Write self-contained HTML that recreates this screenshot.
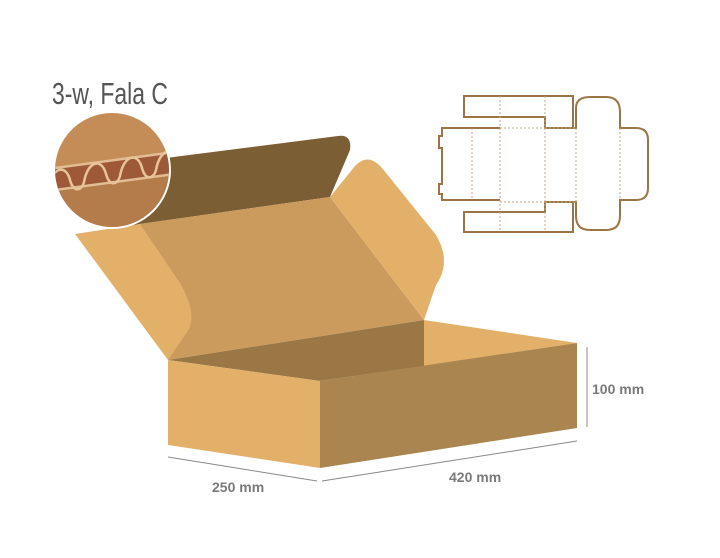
<!DOCTYPE html>
<html><head><style>
html,body{margin:0;padding:0;background:#fff;width:720px;height:558px;overflow:hidden}
svg{display:block}
</style></head><body>
<svg width="720" height="558" viewBox="0 0 720 558" xmlns="http://www.w3.org/2000/svg">
<defs><clipPath id="c"><circle cx="112" cy="170" r="57"/></clipPath></defs>
<!-- back flap -->
<path d="M120,228 L150,160 L338,136 Q352,134 350,150 L330,197 L140,224 Z" fill="#7C5E35"/>
<!-- lid inside -->
<path d="M140,224 L330,197 L424,320 L168,360 Z" fill="#CB9B5E"/>
<!-- right flap -->
<path d="M330,197 L355,166 Q368,152 382,168 L436,235 Q452,262 436,285 L424,320 Z" fill="#E3B06A"/>
<!-- left flap -->
<path d="M75,234 L140,224 L180,283 Q200,318 185,335 L168,360 Z" fill="#E3B06A"/>
<!-- inner box -->
<path d="M168,360 L424,320 L424,366 L320,381 Z" fill="#9A7745"/>
<path d="M424,320 L577,343 L424,366 Z" fill="#E3B06A"/>
<!-- front faces -->
<path d="M168,360 L320,381 L320,468 L168,445 Z" fill="#E3B06A"/>
<path d="M320,381 L577,343 L577,428 L320,468 Z" fill="#AA854F"/>
<!-- dimension lines -->
<line x1="168" y1="457" x2="317" y2="481" stroke="#888" stroke-width="1"/>
<line x1="322" y1="481" x2="577" y2="441" stroke="#888" stroke-width="1"/>
<line x1="587" y1="347" x2="587" y2="427" stroke="#888" stroke-width="1"/>
<g font-family="Liberation Sans, sans-serif" font-weight="bold" font-size="14" fill="#7a7a7a">
<text x="212" y="492">250 mm</text>
<text x="449" y="482">420 mm</text>
<text x="592" y="394">100 mm</text>
</g>
<!-- title -->
<text x="52" y="104" font-family="Liberation Sans, sans-serif" font-size="31" fill="#555" transform="translate(52,0) scale(0.74,1) translate(-52,0)">3-w, Fala C</text>
<!-- circle -->
<circle cx="112" cy="170" r="59" fill="#fff"/>
<g clip-path="url(#c)">
<rect x="50" y="110" width="130" height="120" fill="#C48D57"/>
<path d="M40,190 L190,165 L190,240 L40,240 Z" fill="#B47C4A"/>
<path d="M40,170 L190,150 L190,173 L40,193 Z" fill="#9E5A38"/>
<path d="M40,170 L190,150" stroke="#E2BD94" stroke-width="2.5"/>
<path d="M40,192 L190,172" stroke="#E2BD94" stroke-width="2.5"/>
<path d="M48,190 C52,166 66,164 70,180 C74,194 82,190 84,182 C88,160 102,158 106,174 C110,188 118,184 120,176 C124,154 138,152 142,168 C146,182 154,178 156,170 C160,148 174,146 178,162" fill="none" stroke="#E8C49A" stroke-width="2.5"/>
</g>
<!-- dieline -->
<g fill="none" stroke="#9C7544" stroke-width="2">
<path d="M464,96 H573 V128 H545 V117 H464 Z" />
<path d="M464,232 H573 V202 H545 V212 H464 Z"/>
<path d="M500,128 H442 V136 H439 V148 H442 V184 H439 V194 H442 V200 H500"/>
<path d="M573,128 H576 V108 Q576,97 590,97 H606 Q620,97 620,112 V128 H636 Q648,128 648,140 V188 Q648,200 636,200 H620 V216 Q620,230 606,230 H590 Q576,230 576,216 V202 H573"/>
</g>
<g fill="none" stroke="#C9A67A" stroke-width="1" stroke-dasharray="2,2">
<path d="M500,96 V232 M545,96 V232 M500,128 H545 M500,202 H545 M472,128 V200 M576,128 V202 M620,128 V200 M545,128 H576 M545,202 H576"/>
</g>
</svg>
</body></html>
